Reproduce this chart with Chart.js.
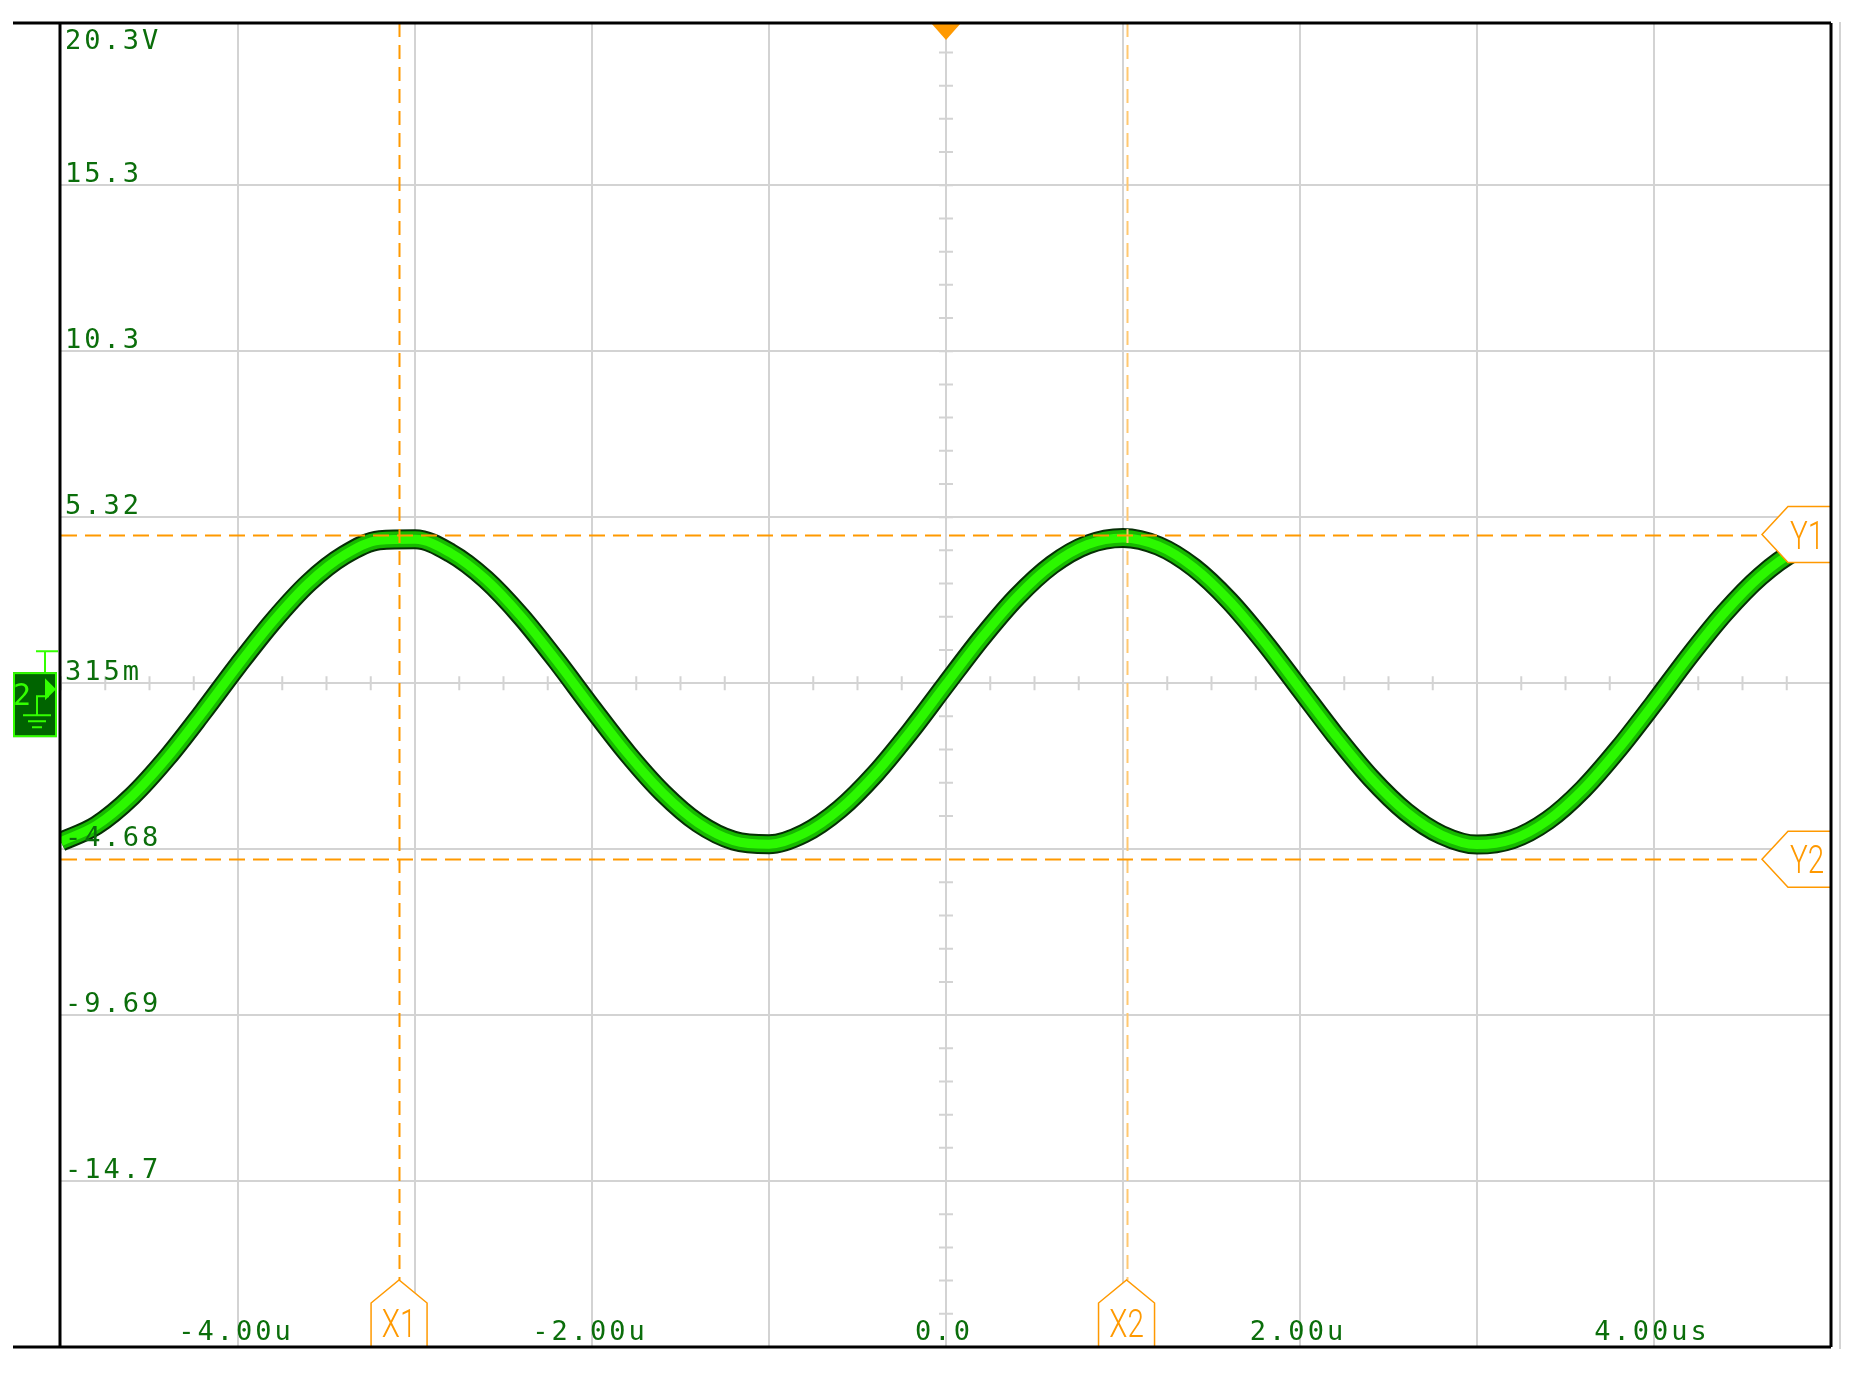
<!DOCTYPE html>
<html>
<head>
<meta charset="utf-8">
<title>Channel 2 capture</title>
<script src="https://cdn.jsdelivr.net/npm/chart.js@4.4.1/dist/chart.umd.min.js"></script>
<style>
  html, body { margin: 0; padding: 0; background: #fff; }
  #wrap { width: 1863px; height: 1376px; }
</style>
</head>
<body>
<div id="wrap"><canvas id="scope" width="1863" height="1376"></canvas></div>
<script>
// Trace: time in microseconds, channel 2 in volts
const timeUs = [
  -5.0, -4.8, -4.6, -4.4, -4.2, -4.0, -3.8, -3.6, -3.4, -3.2,
  -3.0, -2.8, -2.6, -2.4, -2.2, -2.0, -1.8, -1.6, -1.4, -1.2,
  -1.0, -0.8, -0.6, -0.4, -0.2, 0.0, 0.2, 0.4, 0.6, 0.8,
  1.0, 1.2, 1.4, 1.6, 1.8, 2.0, 2.2, 2.4, 2.6, 2.8,
  3.0, 3.2, 3.4, 3.6, 3.8, 4.0, 4.2, 4.4, 4.6, 4.8, 4.88
];
const ch2Volts = [
  -4.46, -3.97, -3.10, -1.93, -0.57, 0.85, 2.19, 3.34, 4.17, 4.62,
  4.65, 4.24, 3.44, 2.32, 0.99, -0.43, -1.80, -2.99, -3.90, -4.43,
  -4.54, -4.21, -3.48, -2.42, -1.13, 0.28, 1.67, 2.91, 3.88, 4.49,
  4.69, 4.45, 3.80, 2.80, 1.54, 0.14, -1.26, -2.54, -3.57, -4.26,
  -4.55, -4.39, -3.82, -2.88, -1.66, -0.29, 1.13, 2.44, 3.53, 4.30, 4.45
];

// Graticule
const xTickValues = [-4, -3, -2, -1, 0, 1, 2, 3, 4];
const xLabelValues = [-4, -2, 0, 2, 4];
const xLabels = ['-4.00u', '-2.00u', '0.0', '2.00u', '4.00us'];
const yTickValues = [20.315, 15.315, 10.315, 5.315, 0.315, -4.685, -9.685, -14.685];
const yLabels = ['20.3V', '15.3', '10.3', '5.32', '315m', '-4.68', '-9.69', '-14.7'];

// Cursors
const xCursorNames = ['X1', 'X2'];
const xCursorValues = [-3.09, 1.02];
const yCursorNames = ['Y1', 'Y2'];
const yCursorValues = [4.79, -4.99];

const GRID = '#d3d3d3';
const ORANGE = '#ff9900';
const LABEL_GREEN = '#0b6e0b';

function cursorBoxX(ctx, px, bottom, name) {
    ctx.save();
    ctx.fillStyle = '#fff';
    ctx.strokeStyle = ORANGE;
    ctx.lineWidth = 1.5;
    ctx.beginPath();
    ctx.moveTo(px - 28, bottom);
    ctx.lineTo(px - 28, bottom - 44);
    ctx.lineTo(px, bottom - 67);
    ctx.lineTo(px + 28, bottom - 44);
    ctx.lineTo(px + 28, bottom);
    ctx.fill();
    ctx.stroke();
    ctx.translate(px, bottom - 10);
    ctx.scale(0.78, 1);
    ctx.fillStyle = ORANGE;
    ctx.font = '300 38px Roboto';
    ctx.textAlign = 'center';
    ctx.textBaseline = 'alphabetic';
    ctx.fillText(name, 0, 0);
    ctx.restore();
}

function cursorBoxY(ctx, py, right, name) {
    ctx.save();
    ctx.fillStyle = '#fff';
    ctx.strokeStyle = ORANGE;
    ctx.lineWidth = 1.5;
    ctx.beginPath();
    ctx.moveTo(right, py - 28);
    ctx.lineTo(right - 43, py - 28);
    ctx.lineTo(right - 69, py);
    ctx.lineTo(right - 43, py + 28);
    ctx.lineTo(right, py + 28);
    ctx.fill();
    ctx.stroke();
    ctx.translate(right - 24, py + 14);
    ctx.scale(0.78, 1);
    ctx.fillStyle = ORANGE;
    ctx.font = '300 38px Roboto';
    ctx.textAlign = 'center';
    ctx.fillText(name, 0, 0);
    ctx.restore();
}

const scopeDecor = {
    id: 'scopeDecor',
    beforeDatasetsDraw(chart) {
        const { ctx, chartArea: a, scales: { x, y } } = chart;
        const cx = x.getPixelForValue(0);
        const cy = y.getPixelForValue(0.315);
        ctx.save();
        ctx.strokeStyle = GRID;
        ctx.lineWidth = 2;
        ctx.beginPath();
        // small marks on the centre axes: 4 per division across, 5 per division up
        for (let t = -5; t <= 5.001; t += 0.25) {
            const px = x.getPixelForValue(t);
            ctx.moveTo(px, cy - 7);
            ctx.lineTo(px, cy + 7);
        }
        for (let v = -19.685; v <= 20.2; v += 1) {
            const py = y.getPixelForValue(v);
            ctx.moveTo(cx - 7, py);
            ctx.lineTo(cx + 7, py);
        }
        ctx.stroke();
        // outer grey rule at the far right
        ctx.beginPath();
        ctx.moveTo(a.right + 9, a.top - 1);
        ctx.lineTo(a.right + 9, a.bottom + 2);
        ctx.stroke();
        ctx.restore();
    },
    afterDatasetsDraw(chart) {
        const { ctx, chartArea: a, scales: { x, y } } = chart;
        ctx.save();

        // y labels
        ctx.font = '27px "DejaVu Sans Mono"';
        ctx.letterSpacing = '3px';
        ctx.fillStyle = LABEL_GREEN;
        ctx.textAlign = 'left';
        ctx.textBaseline = 'alphabetic';
        yTickValues.forEach((v, i) => {
            const base = i === 0 ? a.top + 26 : y.getPixelForValue(v) - 3;
            ctx.fillText(yLabels[i], a.left + 4, base);
        });
        // x labels
        ctx.textAlign = 'center';
        xLabelValues.forEach((t, i) => {
            ctx.fillText(xLabels[i], x.getPixelForValue(t) - 2, a.bottom - 7);
        });
        ctx.letterSpacing = '0px';

        // cursors
        ctx.lineWidth = 2;
        ctx.setLineDash([14, 8]);
        xCursorValues.forEach((t, i) => {
            const px = Math.round(x.getPixelForValue(t)) + 0.5;
            ctx.strokeStyle = i === 0 ? ORANGE : '#ffc870';
            ctx.beginPath();
            ctx.moveTo(px, a.top);
            ctx.lineTo(px, a.bottom - 67);
            ctx.stroke();
        });
        ctx.setLineDash([16, 8]);
        ctx.strokeStyle = ORANGE;
        yCursorValues.forEach(v => {
            const py = Math.round(y.getPixelForValue(v)) + 0.5;
            ctx.beginPath();
            ctx.moveTo(a.left, py);
            ctx.lineTo(a.right - 69, py);
            ctx.stroke();
        });
        ctx.setLineDash([]);
        xCursorValues.forEach((t, i) => {
            cursorBoxX(ctx, x.getPixelForValue(t), a.bottom, xCursorNames[i]);
        });
        yCursorValues.forEach((v, i) => {
            cursorBoxY(ctx, y.getPixelForValue(v), a.right, yCursorNames[i]);
        });

        // trigger position marker
        const tx = x.getPixelForValue(0);
        ctx.fillStyle = ORANGE;
        ctx.beginPath();
        ctx.moveTo(tx - 15, a.top);
        ctx.lineTo(tx + 15, a.top);
        ctx.lineTo(tx, a.top + 17);
        ctx.closePath();
        ctx.fill();

        // frame
        ctx.strokeStyle = '#000';
        ctx.lineWidth = 3;
        ctx.beginPath();
        ctx.moveTo(13, a.top);
        ctx.lineTo(a.right, a.top);
        ctx.moveTo(13, a.bottom);
        ctx.lineTo(a.right, a.bottom);
        ctx.moveTo(a.left - 1, a.top);
        ctx.lineTo(a.left - 1, a.bottom);
        ctx.moveTo(a.right, a.top);
        ctx.lineTo(a.right, a.bottom);
        ctx.stroke();

        // channel 2 ground marker
        const gy = y.getPixelForValue(0.315);
        const bright = '#33ff00';
        ctx.strokeStyle = bright;
        ctx.lineWidth = 2;
        ctx.beginPath();
        ctx.moveTo(36, gy - 32);
        ctx.lineTo(58, gy - 32);
        ctx.moveTo(45, gy - 32);
        ctx.lineTo(45, gy - 11);
        ctx.stroke();
        ctx.fillStyle = '#006400';
        ctx.fillRect(13, gy - 11, 44, 65);
        ctx.strokeRect(14, gy - 10, 42, 63);
        ctx.fillStyle = bright;
        ctx.font = '30px "DejaVu Sans Mono"';
        ctx.textAlign = 'left';
        ctx.fillText('2', 13, gy + 22);
        ctx.beginPath();
        ctx.moveTo(45, gy - 5);
        ctx.lineTo(56, gy + 6);
        ctx.lineTo(45, gy + 17);
        ctx.closePath();
        ctx.fill();
        ctx.beginPath();
        ctx.moveTo(49, gy + 13);
        ctx.lineTo(37, gy + 13);
        ctx.lineTo(37, gy + 32);
        ctx.moveTo(23, gy + 32);
        ctx.lineTo(51, gy + 32);
        ctx.moveTo(28, gy + 38);
        ctx.lineTo(46, gy + 38);
        ctx.moveTo(32, gy + 44);
        ctx.lineTo(42, gy + 44);
        ctx.stroke();

        ctx.restore();
    }
};

// three strokes of the same trace give the dark rim and bright core
function traceLayer(color, width, order) {
    return {
        data: timeUs.map((t, i) => ({ x: t, y: ch2Volts[i] })),
        borderColor: color,
        borderWidth: width,
        order: order,
        pointRadius: 0,
        cubicInterpolationMode: 'monotone',
        borderJoinStyle: 'round',
        fill: false
    };
}

new Chart(document.getElementById('scope'), {
    type: 'line',
    data: {
        datasets: [
            traceLayer('#062f05', 20, 3),
            traceLayer('#17b800', 16, 2),
            traceLayer('#2cf800', 9, 1)
        ]
    },
    options: {
        responsive: false,
        animation: false,
        events: [],
        layout: { padding: { left: 61, right: 32, top: 23, bottom: 29 } },
        plugins: { legend: { display: false }, tooltip: { enabled: false } },
        scales: {
            x: {
                type: 'linear',
                min: -5,
                max: 5,
                afterBuildTicks: s => { s.ticks = xTickValues.map(v => ({ value: v })); },
                ticks: { display: false },
                border: { display: false },
                grid: { color: GRID, lineWidth: 2, drawTicks: false }
            },
            y: {
                type: 'linear',
                min: -19.685,
                max: 20.203,
                afterBuildTicks: s => { s.ticks = yTickValues.slice(1).map(v => ({ value: v })); },
                ticks: { display: false },
                border: { display: false },
                grid: { color: GRID, lineWidth: 2, drawTicks: false }
            }
        }
    },
    plugins: [scopeDecor]
});
</script>
</body>
</html>
